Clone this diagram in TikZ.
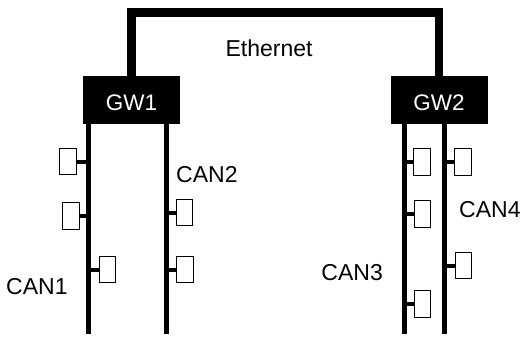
\documentclass[tikz,border=0pt]{standalone}
\usepackage{fontspec}
\setmainfont{Liberation Sans}
\usetikzlibrary{positioning,calc}
\tikzset{
  ethline/.style={line width=8.5pt},
  canbus/.style={line width=4.6pt},
  stubline/.style={line width=4pt},
  gwbox/.style={fill=black, text=white, minimum width=97pt, minimum height=48pt,
                inner sep=0pt, text height=22pt, font=\fontsize{22.5}{26}\selectfont},
  ecubox/.style={draw, line width=1.4pt, fill=white, minimum width=16.5pt,
                 minimum height=26.5pt, inner sep=0pt},
  lbl/.style={inner sep=0pt, font=\fontsize{23}{26}\selectfont},
}

\begin{document}
\begin{tikzpicture}[x=1pt, y=-1pt]
  \useasboundingbox (0,0) rectangle (521,338);
  % gateways and the ethernet link
  \node[gwbox] (gw1) at (131.5,100) {GW1};
  \node[gwbox] (gw2) at (439,100) {GW2};
  \coordinate (eth) at (286,12.5);
  \draw[ethline] (gw1.north) |- (eth) -| (gw2.north);
  \node[lbl] (ethlbl) at (269,48.5) {Ethernet};
  % CAN buses
  \coordinate (can1) at (88.5,334);
  \coordinate (can2) at (166.5,334);
  \coordinate (can3) at (404.5,334);
  \coordinate (can4) at (444.5,334);
  \draw[canbus] (gw1.south -| can1) -- (can1);
  \draw[canbus] (gw1.south -| can2) -- (can2);
  \draw[canbus] (gw2.south -| can3) -- (can3);
  \draw[canbus] (gw2.south -| can4) -- (can4);
  \node[lbl, anchor=west] (can1lbl) at (6,286.5) {CAN1};
  \node[lbl, anchor=west] (can2lbl) at (176,175) {CAN2};
  \node[lbl, anchor=east] (can3lbl) at (383,272.5) {CAN3};
  \node[lbl, anchor=west] (can4lbl) at (459,210) {CAN4};
  % ECUs on CAN1
  \node[ecubox] (e11) at (68,161.5) {};
  \node[ecubox] (e12) at (71,216) {};
  \node[ecubox] (e13) at (107.5,269.5) {};
  \draw[stubline] (e11.east) -- (e11.east -| can1);
  \draw[stubline] (e12.east) -- (e12.east -| can1);
  \draw[stubline] (e13.west) -- (e13.west -| can1);
  % ECUs on CAN2
  \node[ecubox] (e21) at (184.5,212.5) {};
  \node[ecubox] (e22) at (185,269.5) {};
  \draw[stubline] (e21.west) -- (e21.west -| can2);
  \draw[stubline] (e22.west) -- (e22.west -| can2);
  % ECUs on CAN3
  \node[ecubox] (e31) at (422,162) {};
  \node[ecubox] (e32) at (422.5,214) {};
  \node[ecubox] (e33) at (422.5,304) {};
  \draw[stubline] (e31.west) -- (e31.west -| can3);
  \draw[stubline] (e32.west) -- (e32.west -| can3);
  \draw[stubline] (e33.west) -- (e33.west -| can3);
  % ECUs on CAN4
  \node[ecubox] (e41) at (463,162) {};
  \node[ecubox] (e42) at (463.5,265.5) {};
  \draw[stubline] (e41.west) -- (e41.west -| can4);
  \draw[stubline] (e42.west) -- (e42.west -| can4);
\end{tikzpicture}
\end{document}
